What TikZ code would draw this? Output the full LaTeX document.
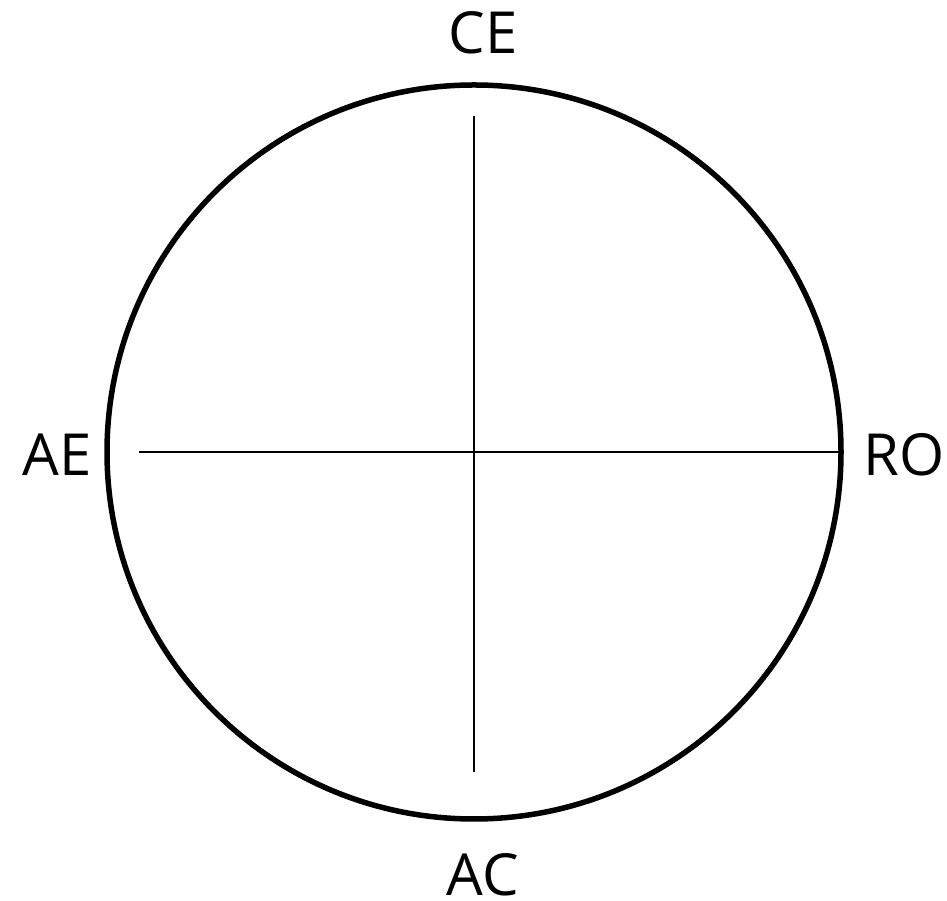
\documentclass[tikz,border=0pt]{standalone}
\usepackage{fontspec}
\setmainfont{Open Sans}
\begin{document}
\begin{tikzpicture}[x=1pt,y=1pt,
  lbl/.style={anchor=base,inner sep=0pt,font=\fontsize{58}{60}\selectfont},
  ring/.style={line width=5.5pt},
  axis/.style={line width=1.6pt}]
\useasboundingbox (0,0) rectangle (947,901);
\coordinate (c) at (474,449);
\draw[ring] (c) circle (367);
\coordinate (vt) at (474,785);
\coordinate (vb) at (474,129);
\coordinate (hl) at (139,449);
\coordinate (hr) at (841,449);
\draw[axis] (vt) -- (vb);
\draw[axis] (hl) -- (hr);
\node[lbl] (ce) at (483,847) {CE};
\node[lbl] (ac) at (483,5) {AC};
\node[lbl] (ae) at (57,425) {AE};
\node[lbl] (ro) at (904,425) {RO};
\end{tikzpicture}
\end{document}
